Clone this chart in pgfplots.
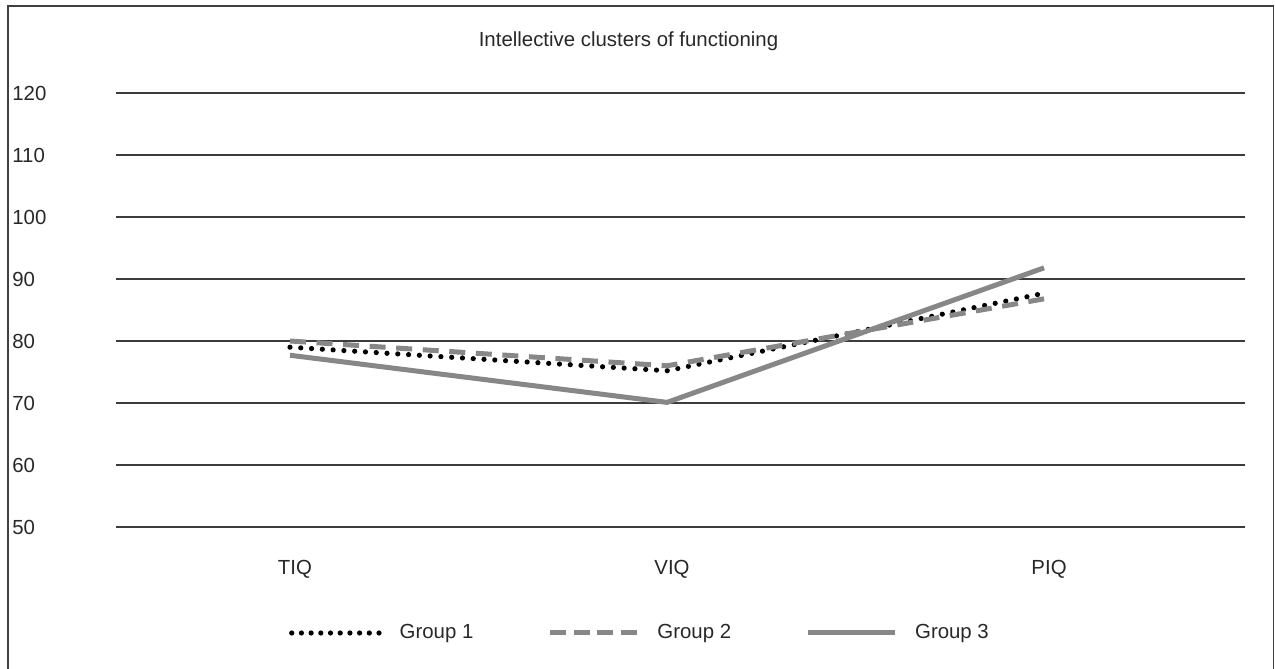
\documentclass[border=0pt]{standalone}
\usepackage{pgfplots}
\pgfplotsset{compat=1.18}
\usepackage{fontspec}
\setmainfont{Liberation Sans}
\definecolor{gridc}{RGB}{60,60,60}
\definecolor{framec}{RGB}{64,64,64}
\definecolor{linec}{RGB}{135,135,135}
\definecolor{textc}{RGB}{40,40,40}
\begin{document}
\fontsize{10.2}{12.2}\selectfont
\begin{tikzpicture}
  % page: 1275 x 669 px at 0.5pt/px
  \useasboundingbox (0,0) rectangle (637.5pt,334.5pt);
  \draw[framec, line width=0.75pt] (4pt,0pt) -- (4pt,331.5pt) -- (636.7pt,331.5pt) -- (636.7pt,0pt);
  \begin{axis}[
      at={(58pt,71pt)}, anchor=south west,
      scale only axis,
      width=564.5pt, height=217pt,
      xmin=-0.4615, xmax=2.533,
      ymin=50, ymax=120,
      xtick={0,1,2},
      xticklabels={TIQ,VIQ,PIQ},
      ytick={50,60,...,120},
      ymajorgrids,
      grid style={gridc, line width=0.75pt},
      axis line style={draw=none},
      tick style={draw=none},
      /pgf/number format/assume math mode=true,
      ticklabel style={text=textc},
      yticklabel style={anchor=west, inner sep=0pt, xshift=-52pt},
      xticklabel style={anchor=base, yshift=-24pt, xshift=2.5pt},
      title={Intellective clusters of functioning},
      title style={at={(axis description cs:0.5,1)}, anchor=base, yshift=17pt, xshift=-26pt, text=textc},
      legend columns=3,
      legend style={at={(axis description cs:0.465,0)}, anchor=center, yshift=-53pt,
                    draw=none, fill=none, text=textc,
                    /tikz/every odd column/.append style={column sep=7pt},
                    /tikz/every even column/.append style={column sep=35pt}},
      clip=false,
    ]
    % Group 1 -- dotted black
    \addplot[black, line width=2.6pt, line cap=round, dash pattern=on 0pt off 5.4pt,
      legend image code/.code={\draw[black, line width=2.6pt, line cap=round, dash pattern=on 0pt off 4.85pt] (0pt,0pt) -- (43.7pt,0pt);}]
      coordinates {(0,79.0) (1,75.2) (2,87.7)};
    \addlegendentry{Group 1}
    % Group 2 -- dashed grey
    \addplot[linec, line width=2.5pt, dash pattern=on 8pt off 5.3pt,
      legend image code/.code={\draw[linec, line width=2.5pt, dash pattern=on 8pt off 3.83pt] (0pt,0pt) -- (43.5pt,0pt);}]
      coordinates {(0,80.0) (1,76.0) (2,86.8)};
    \addlegendentry{Group 2}
    % Group 3 -- solid grey
    \addplot[linec, line width=2.5pt,
      legend image code/.code={\draw[linec, line width=2.5pt] (0pt,0pt) -- (43.5pt,0pt);}]
      coordinates {(0,77.7) (1,70.1) (2,91.8)};
    \addlegendentry{Group 3}
  \end{axis}
\end{tikzpicture}
\end{document}
